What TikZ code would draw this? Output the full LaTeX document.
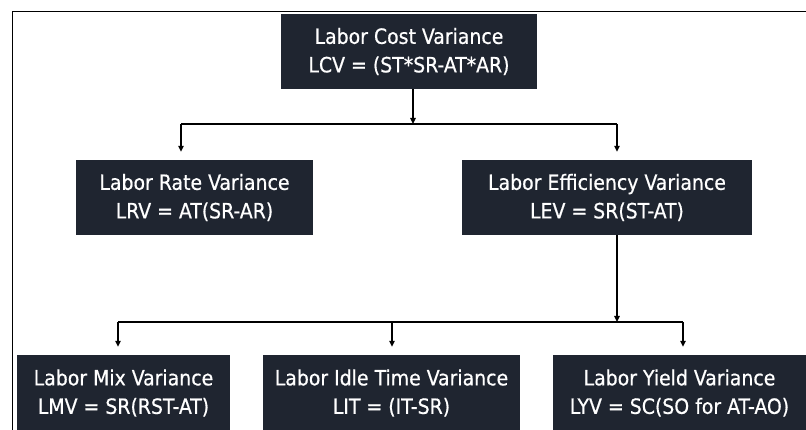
\documentclass[tikz,border=0pt]{standalone}
\usepackage{fontspec}
\setmainfont[FakeBold=0.6]{DejaVu Sans Condensed}
\usetikzlibrary{arrows.meta}
\definecolor{boxfill}{HTML}{1F2530}
\tikzset{
  varbox/.style={draw=none, fill=boxfill, text=white, align=center,
    inner sep=0pt, minimum height=75pt,
    font=\fontsize{21}{28.5}\selectfont},
  link/.style={line width=1.4pt, black},
  tip/.style={-{Triangle[length=6pt,width=5.5pt]}},
  tolink/.style={link, tip, shorten >=8pt},
}
\begin{document}
\begin{tikzpicture}[x=1pt,y=-1pt]
  \useasboundingbox (0,0) rectangle (806,430);
  % outer frame (left and top edges)
  \draw[line width=1.3pt] (12.5,432) -- (12.5,11.5) -- (808,11.5);

  % boxes
  \node[varbox, minimum width=256pt] (lcv) at (409,51.5)
    {Labor Cost Variance\\LCV = (ST*SR-AT*AR)};
  \node[varbox, minimum width=237pt] (lrv) at (194.5,197.5)
    {Labor Rate Variance\\LRV = AT(SR-AR)};
  \node[varbox, minimum width=290pt] (lev) at (607,197.5)
    {Labor Efficiency Variance\\LEV = SR(ST-AT)};
  \node[varbox, minimum width=213pt, minimum height=76pt] (lmv) at (123.5,393)
    {Labor Mix Variance\\LMV = SR(RST-AT)};
  \node[varbox, minimum width=257pt, minimum height=76pt] (lit) at (391.5,393)
    {Labor Idle Time Variance\\LIT = (IT-SR)};
  \node[varbox, minimum width=253pt, minimum height=76pt] (lyv) at (679.5,393)
    {Labor Yield Variance\\LYV = SC(SO for AT-AO)};

  % junction points
  \coordinate (j1) at (413,124);
  \coordinate (a1) at (181,124);
  \coordinate (a2) at (617,124);
  \coordinate (j2) at (617,322);
  \coordinate (b1) at (118,322);
  \coordinate (b2) at (392,322);
  \coordinate (b3) at (683,322);

  % first level
  \draw[link, tip] (lcv.south -| j1) -- (j1);
  \draw[link] (a1) -- (a2);
  \draw[tolink] (a1) -- (a1 |- lrv.north);
  \draw[tolink] (a2) -- (a2 |- lev.north);

  % second level
  \draw[link, tip] (lev.south -| j2) -- (j2);
  \draw[link] (b1) -- (b3);
  \draw[tolink] (b1) -- (b1 |- lmv.north);
  \draw[tolink] (b2) -- (b2 |- lit.north);
  \draw[tolink] (b3) -- (b3 |- lyv.north);
\end{tikzpicture}
\end{document}
